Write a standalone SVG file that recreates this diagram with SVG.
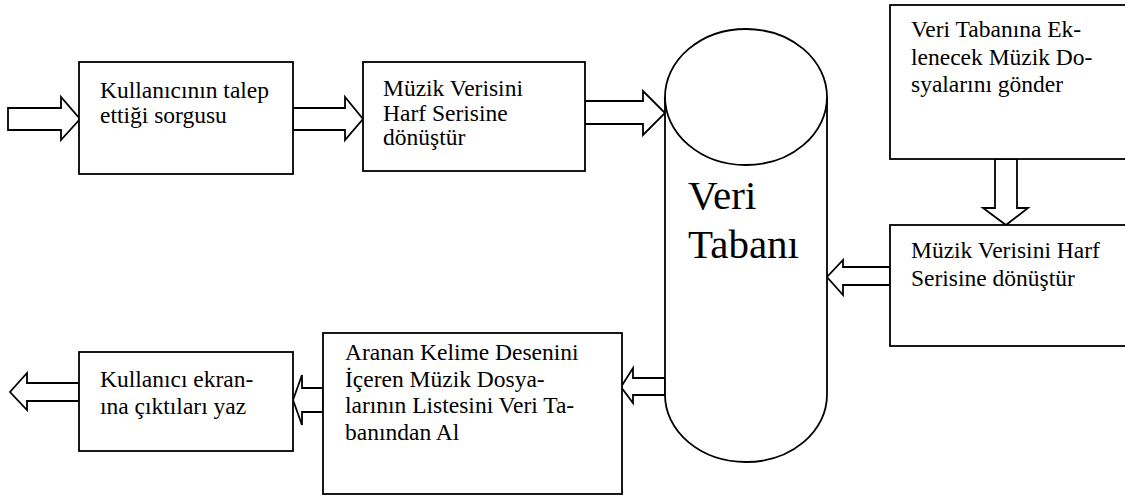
<svg xmlns="http://www.w3.org/2000/svg" width="1125" height="495" viewBox="0 0 1125 495">
  <rect width="1125" height="495" fill="#fff"/>

  <!-- block arrows between the steps -->
  <g id="connectors" fill="#fff" stroke="#000" stroke-width="1.8">
    <polygon points="8,108 61,108 61,97 80,119 61,140 61,130 8,130"/>
    <polygon points="293,108 345,108 345,97 363,119 345,140 345,130 293,130"/>
    <polygon points="585,101 643,101 643,91 665,113 643,135 643,124 585,124"/>
    <polygon points="995,159 1017,159 1017,208 1028,208 1006,225 983,208 995,208"/>
    <polygon points="890,267 843,267 843,260 827,277 843,295 843,285 890,285"/>
    <polygon points="665,378 633,378 633,368 621,387 633,403 633,395 665,395"/>
    <polygon points="323,388 302,388 302,375 293,400 302,425 302,412 323,412"/>
    <polygon points="79,383 27,383 27,373 10,392 27,410 27,401 79,401"/>
  </g>

  <g id="query">
    <rect x="79" y="62" width="214" height="112" fill="#fff" stroke="#000" stroke-width="1.8"/>
    <text x="100" y="98" style="font-family: 'Liberation Serif'; font-size: 23.5px">Kullanıcının talep</text>
    <text x="100" y="123" style="font-family: 'Liberation Serif'; font-size: 23.5px">ettiği sorgusu</text>
  </g>

  <g id="convert-query">
    <rect x="363" y="62" width="222" height="109" fill="#fff" stroke="#000" stroke-width="1.8"/>
    <text x="383" y="96" style="font-family: 'Liberation Serif'; font-size: 23.5px">Müzik Verisini</text>
    <text x="383" y="121" style="font-family: 'Liberation Serif'; font-size: 23.5px">Harf Serisine</text>
    <text x="383" y="145" style="font-family: 'Liberation Serif'; font-size: 23.5px">dönüştür</text>
  </g>

  <g id="database">
    <path d="M665,97 L665,395 A81,67 0 0 0 827,395 L827,97" fill="#fff" stroke="#000" stroke-width="1.8"/>
    <ellipse cx="746" cy="97" rx="81" ry="68" fill="#fff" stroke="#000" stroke-width="1.8"/>
    <text x="688" y="209" style="font-family: 'Liberation Serif'; font-size: 41px">Veri</text>
    <text x="688" y="258" style="font-family: 'Liberation Serif'; font-size: 41px">Tabanı</text>
  </g>

  <g id="upload">
    <rect x="890" y="5" width="245" height="154" fill="#fff" stroke="#000" stroke-width="1.8"/>
    <text x="911" y="37" style="font-family: 'Liberation Serif'; font-size: 23.5px">Veri Tabanına Ek-</text>
    <text x="911" y="65" style="font-family: 'Liberation Serif'; font-size: 23.5px">lenecek Müzik Do-</text>
    <text x="911" y="92" style="font-family: 'Liberation Serif'; font-size: 23.5px">syalarını gönder</text>
  </g>

  <g id="convert-upload">
    <rect x="890" y="225" width="245" height="121" fill="#fff" stroke="#000" stroke-width="1.8"/>
    <text x="911" y="258" style="font-family: 'Liberation Serif'; font-size: 23.5px">Müzik Verisini Harf</text>
    <text x="911" y="286" style="font-family: 'Liberation Serif'; font-size: 23.5px">Serisine dönüştür</text>
  </g>

  <g id="fetch">
    <rect x="323" y="333" width="299" height="161" fill="#fff" stroke="#000" stroke-width="1.8"/>
    <text x="345" y="360" style="font-family: 'Liberation Serif'; font-size: 23.5px">Aranan Kelime Desenini</text>
    <text x="345" y="387" style="font-family: 'Liberation Serif'; font-size: 23.5px">İçeren Müzik Dosya-</text>
    <text x="345" y="413" style="font-family: 'Liberation Serif'; font-size: 23.5px">larının Listesini Veri Ta-</text>
    <text x="345" y="440" style="font-family: 'Liberation Serif'; font-size: 23.5px">banından Al</text>
  </g>

  <g id="output">
    <rect x="79" y="352" width="214" height="99" fill="#fff" stroke="#000" stroke-width="1.8"/>
    <text x="100" y="387" style="font-family: 'Liberation Serif'; font-size: 23.5px">Kullanıcı ekran-</text>
    <text x="100" y="414" style="font-family: 'Liberation Serif'; font-size: 23.5px">ına çıktıları yaz</text>
  </g>
</svg>
